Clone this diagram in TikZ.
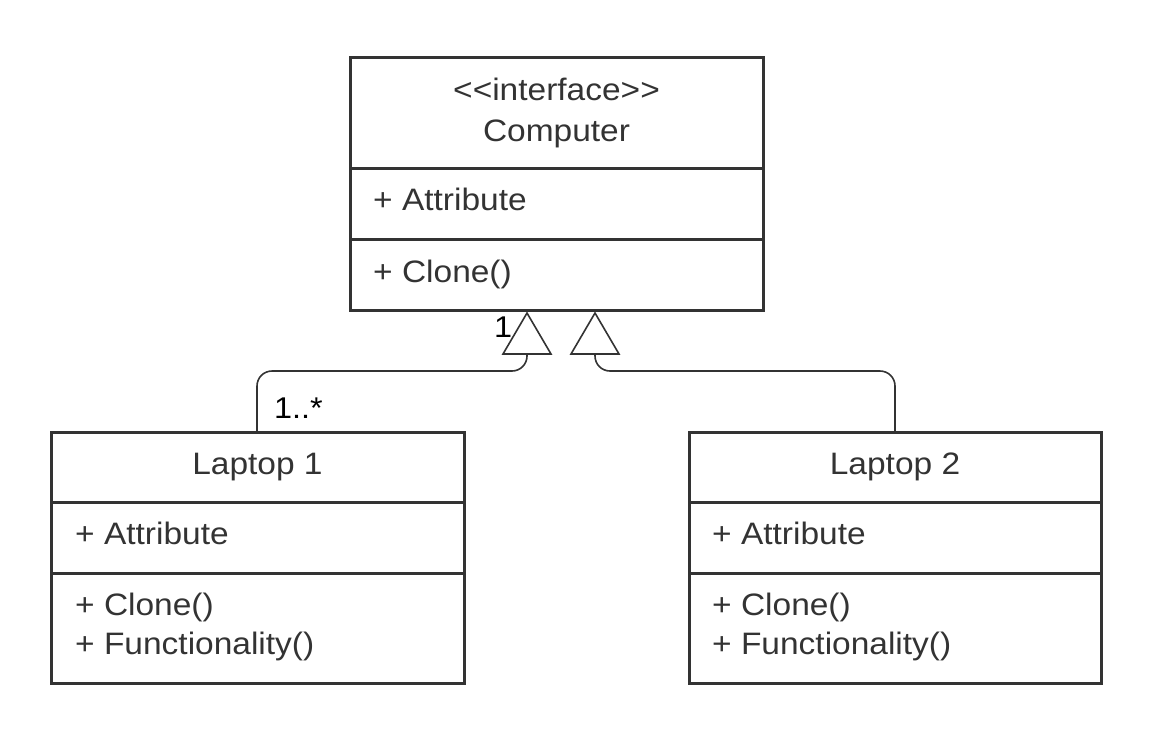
\documentclass[tikz,border=0pt]{standalone}
\usepackage{fontspec}
\setmainfont[FakeStretch=1.08]{Liberation Sans}
\definecolor{ink}{HTML}{333333}
\tikzset{
  umlbox/.style={draw=ink, line width=3pt},
  umldiv/.style={draw=ink, line width=3pt},
  title/.style={anchor=base, inner sep=0pt, text=ink, font=\fontsize{31}{37}\selectfont},
  member/.style={anchor=base west, inner sep=0pt, text=ink, font=\fontsize{31}{37}\selectfont},
  mult/.style={anchor=base west, inner sep=0pt, text=black, font=\fontsize{30}{35}\selectfont},
  conn/.style={draw=ink, line width=1.6pt, rounded corners=15pt},
  gentri/.style={draw=ink, line width=1.6pt, fill=white, line join=miter}
}
\begin{document}
\begin{tikzpicture}[x=1pt,y=-1pt]
\useasboundingbox (0,0) rectangle (1155,731);
% Computer
\draw[umlbox] (350,57) rectangle (763,310);
\draw[umldiv] (350,168) -- (763,168);
\draw[umldiv] (350,239) -- (763,239);
\node[title] (cstereo) at (556.5,100) {<{}<interface>{}>};
\node[title] (cname) at (556.5,141) {Computer};
\node[member] (cattr) at (373,210) {+ Attribute};
\node[member] (cclone) at (373,282) {+ Clone()};
% Laptop 1
\draw[umlbox] (51,432) rectangle (464,683);
\draw[umldiv] (51,502) -- (464,502);
\draw[umldiv] (51,573) -- (464,573);
\node[title] (l1name) at (257.5,474) {Laptop 1};
\node[member] (l1attr) at (75,544) {+ Attribute};
\node[member] (l1clone) at (75,615) {+ Clone()};
\node[member] (l1func) at (75,654.5) {+ Functionality()};
% Laptop 2
\draw[umlbox] (689,432) rectangle (1101,683);
\draw[umldiv] (689,502) -- (1101,502);
\draw[umldiv] (689,573) -- (1101,573);
\node[title] (l2name) at (895,474) {Laptop 2};
\node[member] (l2attr) at (712,544) {+ Attribute};
\node[member] (l2clone) at (712,615) {+ Clone()};
\node[member] (l2func) at (712,654.5) {+ Functionality()};
% connector anchors
\coordinate (t1) at (527,354);
\coordinate (t2) at (595,354);
\coordinate (l1top) at (257,432);
\coordinate (l2top) at (895,432);
\draw[conn] (l1top) -- (257,371) -- (527,371) -- (t1);
\draw[conn] (l2top) -- (895,371) -- (595,371) -- (t2);
% generalization triangles
\draw[gentri] (503,354) -- (527,313) -- (551,354) -- cycle;
\draw[gentri] (571,354) -- (595,313) -- (619,354) -- cycle;
% multiplicities
\node[mult] (m1) at (494,337) {1};
\node[mult] (m2) at (274,418) {1..*};
\end{tikzpicture}
\end{document}
